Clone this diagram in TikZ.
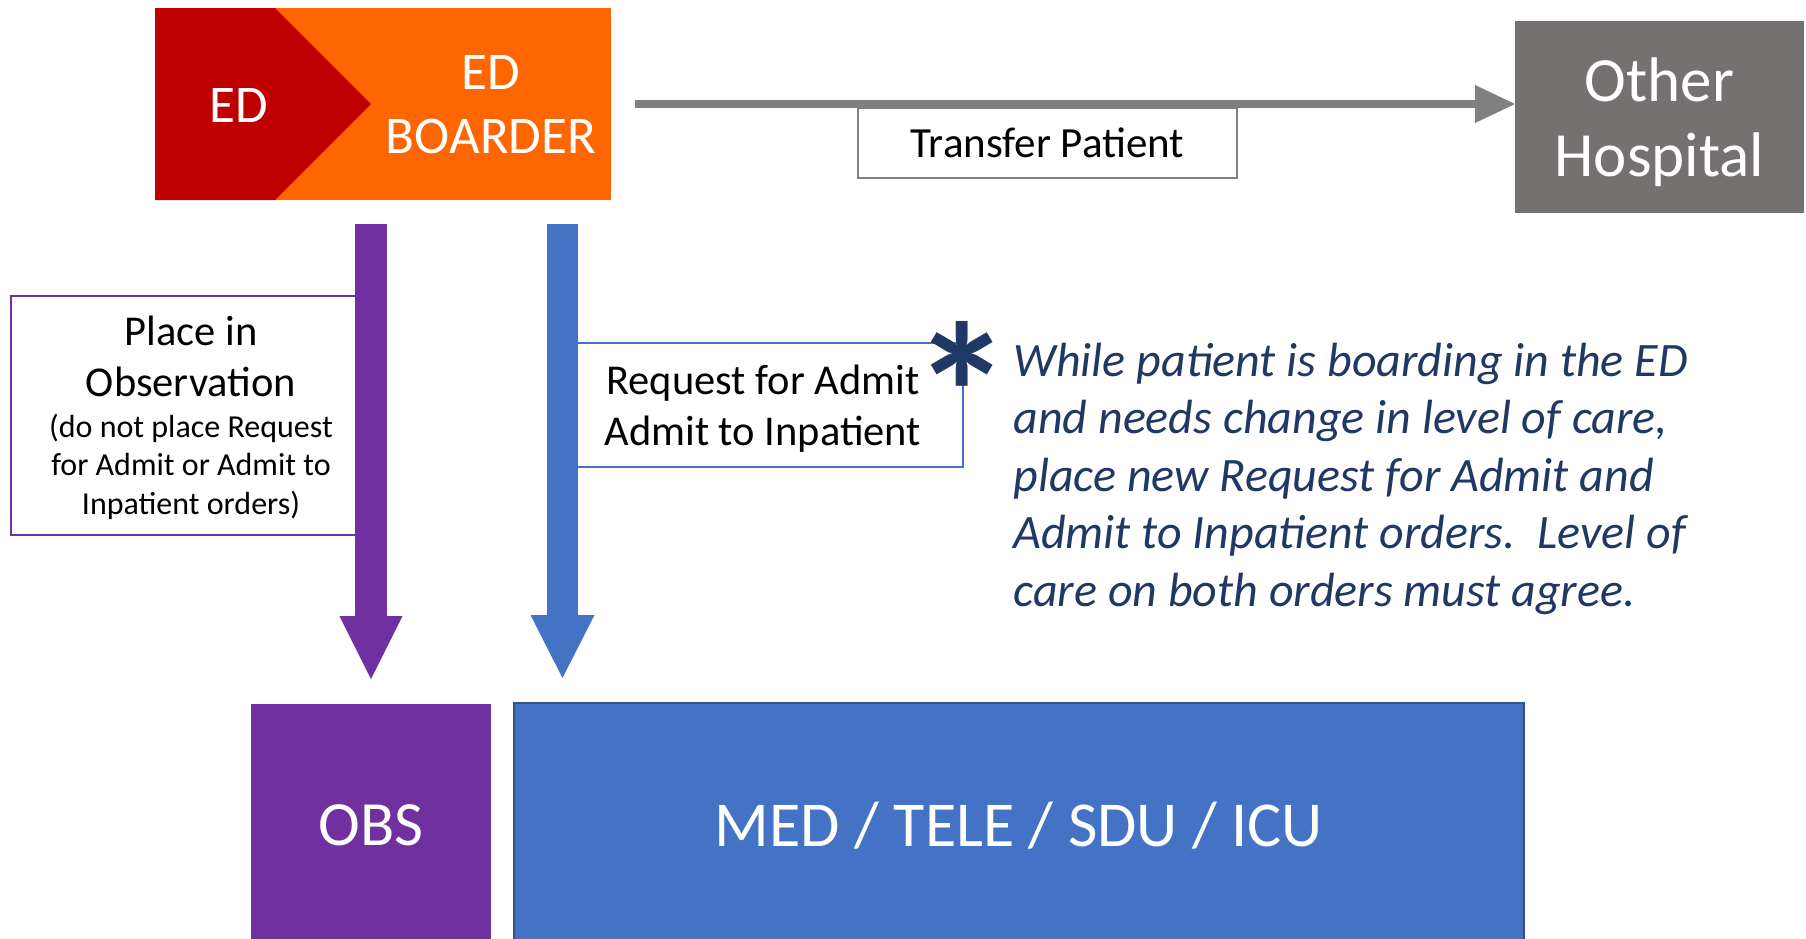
\documentclass[tikz,border=0pt]{standalone}
\usepackage{fontspec}
\setmainfont{Carlito}
\usetikzlibrary{arrows.meta}

\definecolor{edred}{HTML}{C00000}
\definecolor{edorange}{HTML}{FF6600}
\definecolor{obspurple}{HTML}{7030A0}
\definecolor{medblue}{HTML}{4472C4}
\definecolor{mededge}{HTML}{2F528F}
\definecolor{arrowgray}{HTML}{808080}
\definecolor{hospgray}{HTML}{767171}
\definecolor{notenavy}{HTML}{203864}

\newcommand\setfs[2]{\fontsize{#1}{#2}\selectfont}

\begin{document}
\begin{tikzpicture}[x=1pt,y=-1pt,
  plain/.style={inner sep=0pt, outer sep=0pt},
  block/.style={plain, anchor=north west, text=white, align=center},
  notebox/.style={plain, anchor=north west, fill=white, line width=2pt, align=center, text=black},
  label/.style={plain, text=white, align=center},
  flowarrow/.style={line width=#1, shorten <=24pt, shorten >=25pt},
]
\fill[white] (0,0) rectangle (1806,938);
\useasboundingbox (0,0) rectangle (1806,938);

% ED / ED boarder banner
\node[block, fill=edorange, minimum width=456pt, minimum height=192pt] (edbox) at (155,8) {};
\fill[edred] (edbox.north west) -- ++(120,0) -- (edbox.center -| 371,0) -- ([xshift=120pt]edbox.south west) -- (edbox.south west) -- cycle;
\node[label, font=\setfs{53}{64}] (edtxt) at (239,105) {ED};
\node[label, font=\setfs{53}{64}] (boardertxt) at (491,105) {ED\\BOARDER};

% transfer to another hospital
\node[block, fill=hospgray, minimum width=289pt, minimum height=192pt,
      font=\setfs{63}{75}, text depth=0pt] (other) at (1515,21) {Other\\Hospital};
\draw[arrowgray, line width=8pt, shorten <=24pt,
      -{Triangle[width=38pt,length=40pt,line width=0pt]}]
  (edbox.east) -- (edbox.east -| other.west);
\node[notebox, draw=arrowgray, minimum width=379pt, minimum height=70pt,
      font=\setfs{43}{50}] (transfer) at (858,108) {Transfer Patient};

% destination units
\node[block, fill=obspurple, minimum width=240pt, minimum height=242pt,
      font=\setfs{63}{75}, text depth=0pt] (obs) at (251,704) {OBS};
\node[block, fill=medblue, draw=mededge, line width=1.5pt, minimum width=1010pt, minimum height=243pt,
      font=\setfs{64}{75}, text depth=0pt] (med) at (514,703) {MED / TELE / SDU / ICU};

% observation path
\node[notebox, draw=obspurple, minimum width=360pt, minimum height=239pt, font=\setfs{42.5}{38.5}, text depth=1pt]
  (obsnote) at (11,296)
  {Place in\\[13pt]Observation\\[2pt]\setfs{32}{38.5}(do not place Request\\\setfs{32}{38.5}for Admit or Admit to\\\setfs{32}{38.5}Inpatient orders)};
\draw[obspurple, flowarrow=32pt, -{Triangle[width=63pt,length=63pt,line width=0pt]}]
  (edbox.south -| obsnote.east) -- (obsnote.east |- obs.north);

% inpatient path
\node[notebox, draw=medblue, minimum width=400.5pt, minimum height=124pt, font=\setfs{42.5}{51}, text depth=0pt]
  (reqnote) at (562.5,343) {Request for Admit\\Admit to Inpatient};
\draw[medblue, flowarrow=31pt, -{Triangle[width=64pt,length=63pt,line width=0pt]}]
  (edbox.south -| reqnote.west) -- (reqnote.west |- med.north);

% footnote on level-of-care changes
\node[plain, anchor=north, text=notenavy, font=\setfs{200}{200}\bfseries] (star) at (962,321) {*};
\node[plain, anchor=north west, text=notenavy, align=left, font=\setfs{48}{57.5}\itshape] (note) at (1013.5,343)
  {While patient is boarding in the ED\\and needs change in level of care,\\place new Request for Admit and\\Admit to Inpatient orders.\ \ Level of\\care on both orders must agree.};
\end{tikzpicture}
\end{document}
